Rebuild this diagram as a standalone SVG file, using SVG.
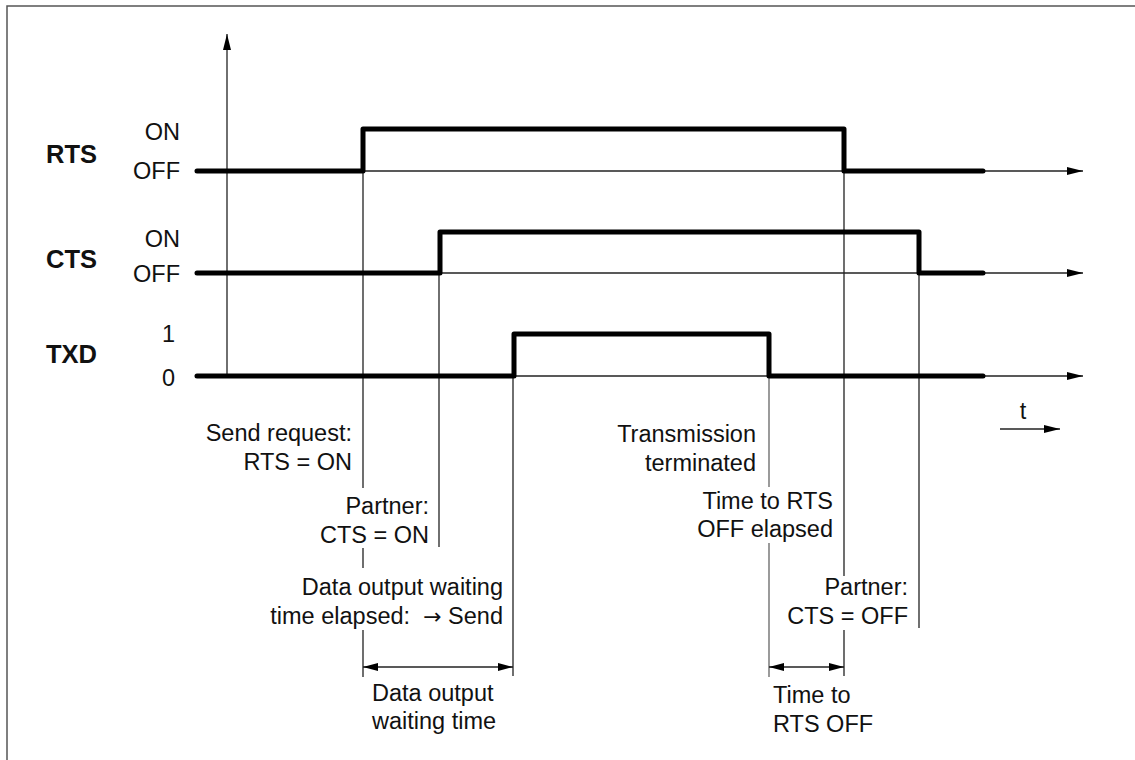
<svg xmlns="http://www.w3.org/2000/svg" width="1135" height="760" viewBox="0 0 1135 760">
<defs>
<style>
.t{font-family:"Liberation Sans",Arial,sans-serif;font-size:23.5px;fill:#111}
.e{text-anchor:end}
.b{font-family:"Liberation Sans",Arial,sans-serif;font-size:25.5px;font-weight:bold;fill:#111}
.ar{font-family:"DejaVu Sans",sans-serif;font-size:22px}
.thin{stroke:#222;stroke-width:1.3;fill:none}
.gray{stroke:#666;stroke-width:1.3;fill:none}
.sig{stroke:#000;stroke-width:5;fill:none;stroke-linecap:round;stroke-linejoin:round}
</style>
<marker id="ah" markerWidth="16" markerHeight="9" refX="16" refY="4.5" orient="auto" markerUnits="userSpaceOnUse">
<path d="M0,0.5 L16,4.5 L0,8.5 Z" fill="#000"/>
</marker>
<marker id="dh" markerWidth="15" markerHeight="8" refX="15" refY="4" orient="auto-start-reverse" markerUnits="userSpaceOnUse">
<path d="M0,0 L15,4 L0,8 Z" fill="#000"/>
</marker>
</defs>
<rect x="0" y="0" width="1135" height="760" fill="#fff"/>
<rect x="7" y="6" width="1150" height="780" fill="none" stroke="#555" stroke-width="1.5"/>

<g id="axes">
<line class="thin" x1="227" y1="376" x2="227" y2="34" marker-end="url(#ah)"/>
<line class="thin" x1="197" y1="171" x2="1083" y2="171" marker-end="url(#ah)"/>
<line class="thin" x1="197" y1="273" x2="1083" y2="273" marker-end="url(#ah)"/>
<line class="thin" x1="197" y1="376" x2="1083" y2="376" marker-end="url(#ah)"/>
<line class="thin" x1="1000" y1="429" x2="1060" y2="429" marker-end="url(#ah)"/>
<text class="t" x="1023" y="419" text-anchor="middle">t</text>
</g>

<g id="connectors">
<path class="thin" d="M363,171 V488 M363,548 V568 M363,630 V677"/>
<path class="thin" d="M439,273 V547"/>
<path class="thin" d="M513,376 V676"/>
<path class="gray" d="M769,376 V487 M769,543 V677"/>
<path class="thin" d="M844,171 V576 M844,630 V676"/>
<path class="thin" d="M919,273 V628"/>
<line class="thin" x1="363" y1="667" x2="513" y2="667" marker-start="url(#dh)" marker-end="url(#dh)"/>
<line class="thin" x1="769" y1="667" x2="844" y2="667" marker-start="url(#dh)" marker-end="url(#dh)"/>
</g>

<g id="rts">
<text class="b" x="46" y="163">RTS</text>
<text class="t e" x="180" y="140">ON</text>
<text class="t e" x="180" y="179">OFF</text>
<path class="sig" d="M197,171 H363 V129 H844 V171 H983"/>
</g>

<g id="cts">
<text class="b" x="46" y="268">CTS</text>
<text class="t e" x="180" y="247">ON</text>
<text class="t e" x="180" y="282">OFF</text>
<path class="sig" d="M197,273 H440 V232 H919 V273 H983"/>
</g>

<g id="txd">
<text class="b" x="46" y="363">TXD</text>
<text class="t e" x="175" y="342">1</text>
<text class="t e" x="175" y="386">0</text>
<path class="sig" d="M197,376 H514 V334 H769 V376 H983"/>
</g>

<g id="send-request">
<text class="t e" x="352" y="441">Send request:</text>
<text class="t e" x="352" y="470">RTS = ON</text>
</g>
<g id="partner-cts-on">
<text class="t e" x="429" y="514">Partner:</text>
<text class="t e" x="429" y="543">CTS = ON</text>
</g>
<g id="waiting-elapsed">
<text class="t e" x="503" y="595">Data output waiting</text>
<text class="t e" x="503" y="624">time elapsed:&#160; <tspan class="ar">→</tspan> Send</text>
</g>
<g id="transmission-terminated">
<text class="t e" x="756" y="442">Transmission</text>
<text class="t e" x="756" y="471">terminated</text>
</g>
<g id="rts-off-elapsed">
<text class="t e" x="833" y="509">Time to RTS</text>
<text class="t e" x="833" y="537">OFF elapsed</text>
</g>
<g id="partner-cts-off">
<text class="t e" x="908" y="595">Partner:</text>
<text class="t e" x="908" y="624">CTS = OFF</text>
</g>
<g id="waiting-time">
<text class="t" x="372" y="701">Data output</text>
<text class="t" x="372" y="729">waiting time</text>
</g>
<g id="time-to-rts-off">
<text class="t" x="773" y="703">Time to</text>
<text class="t" x="773" y="732">RTS OFF</text>
</g>
</svg>
